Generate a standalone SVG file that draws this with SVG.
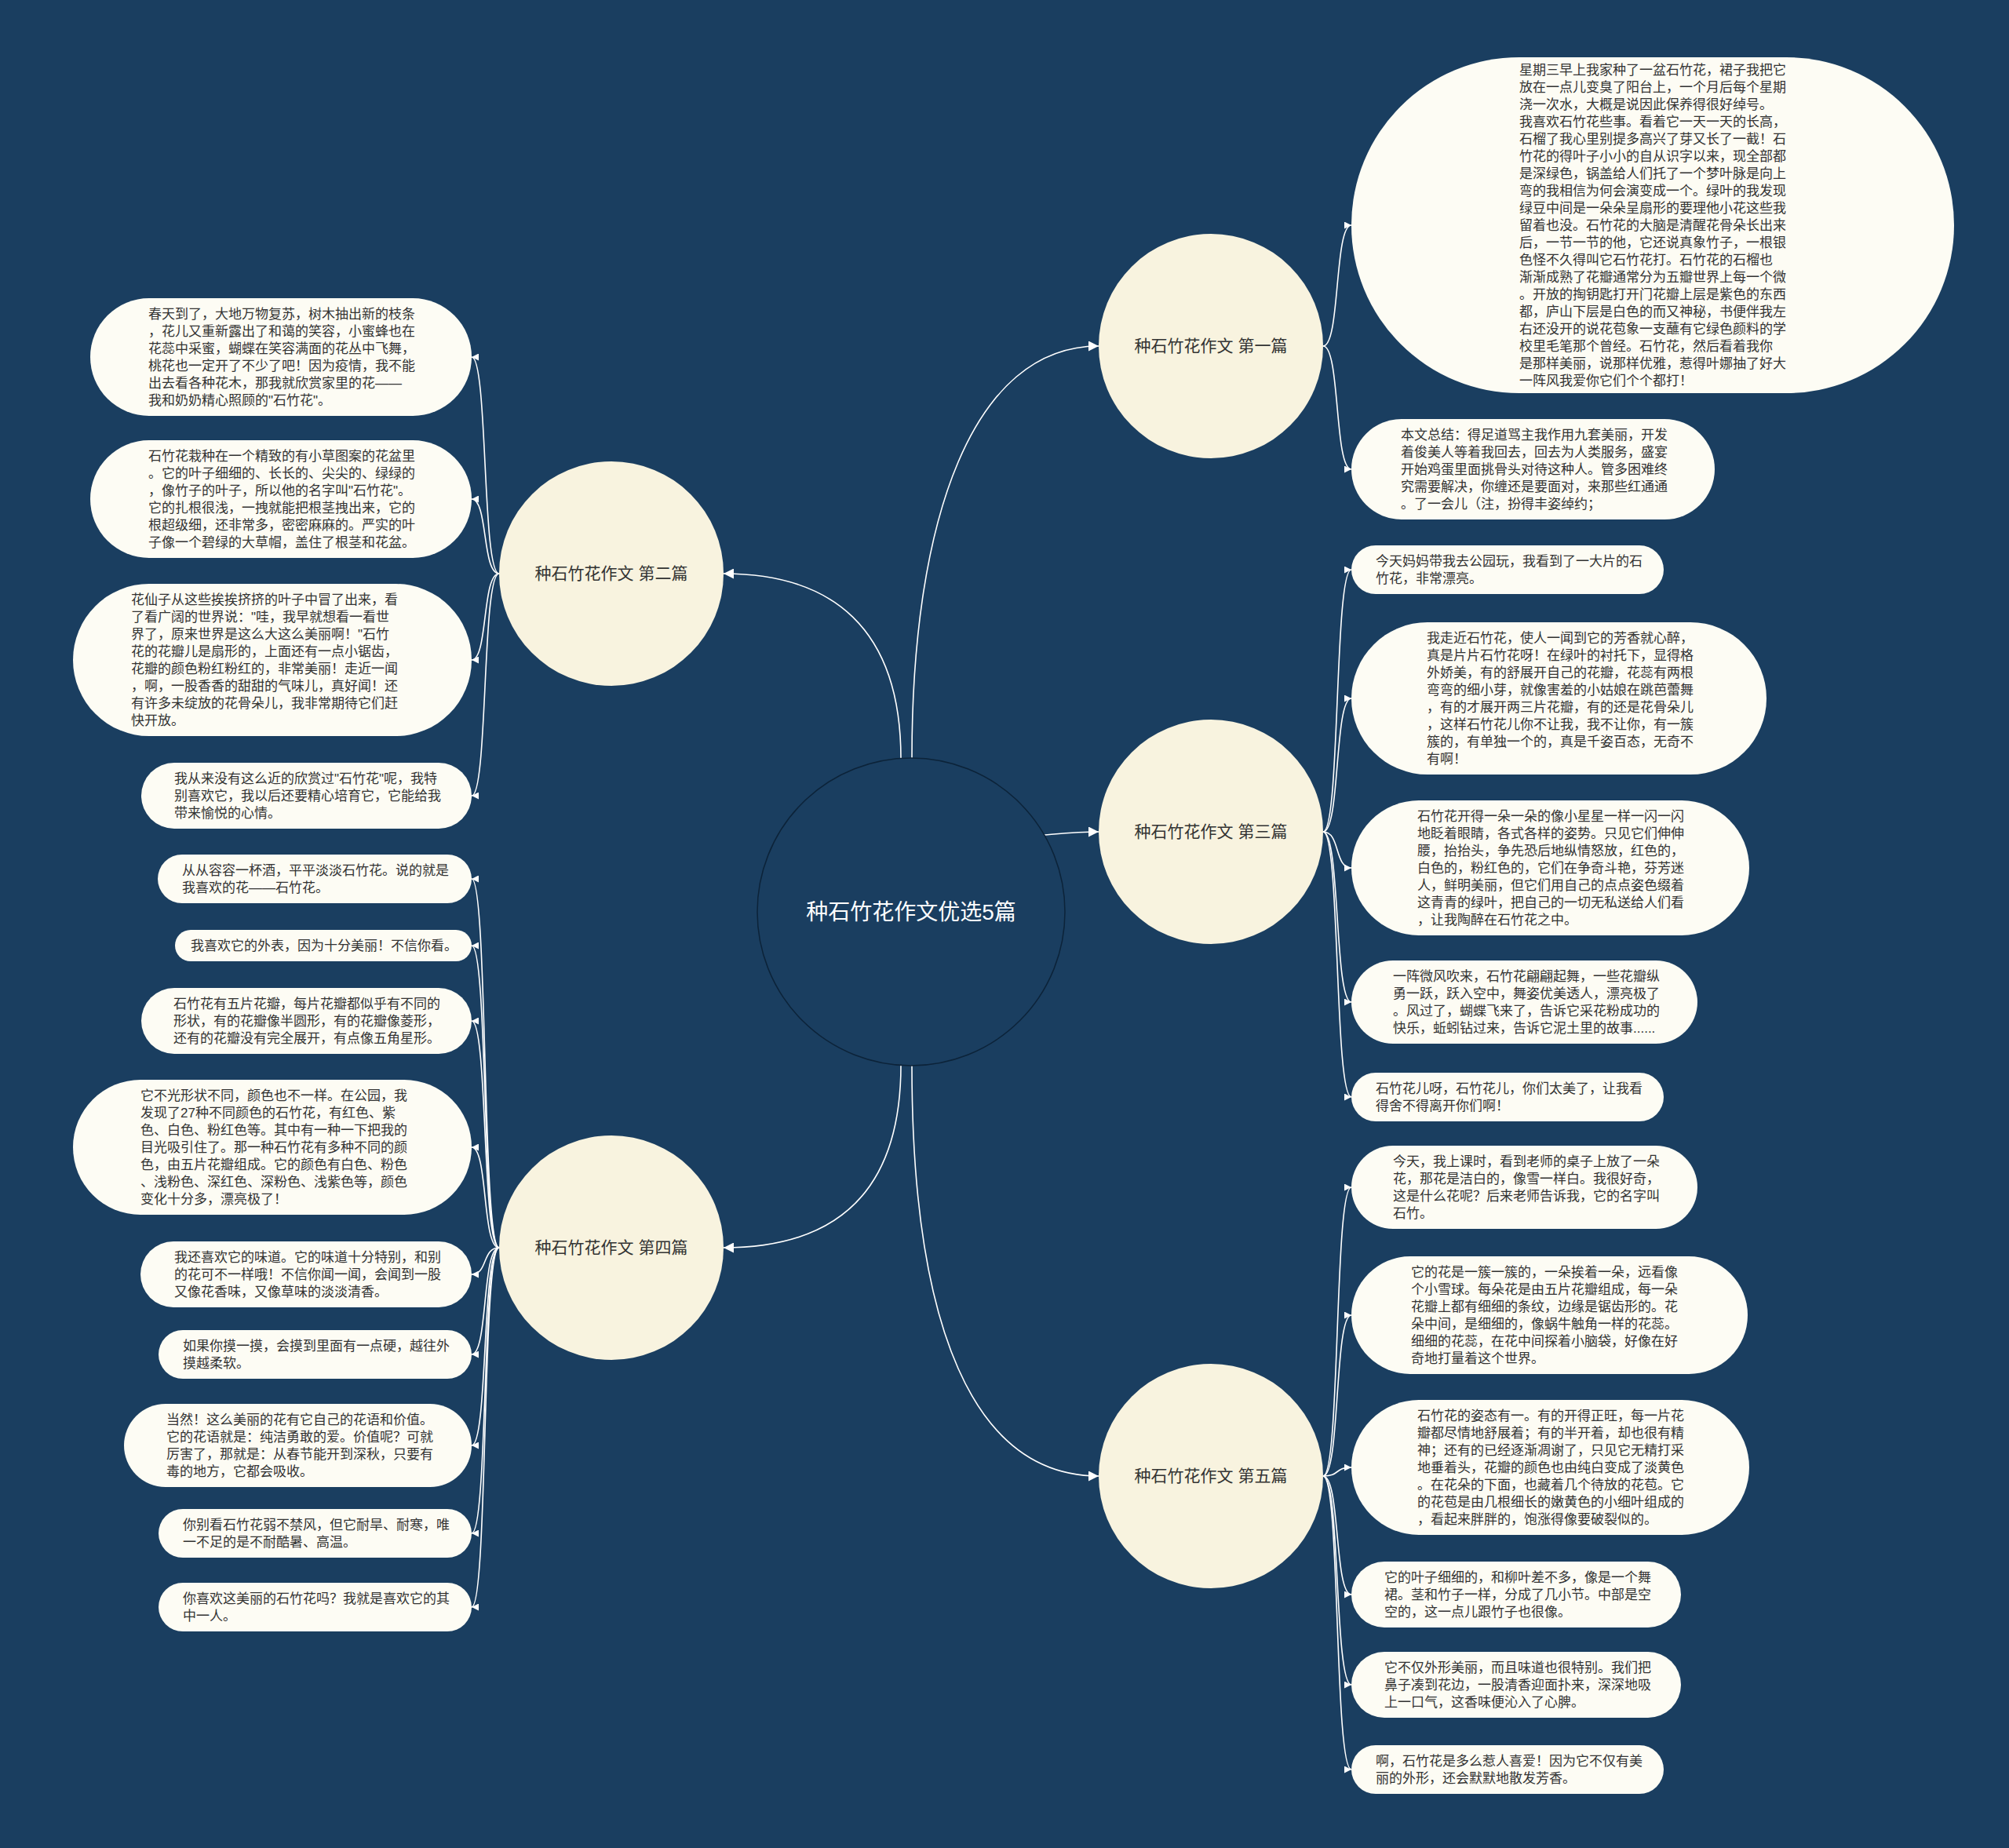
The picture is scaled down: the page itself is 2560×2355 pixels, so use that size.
<svg xmlns="http://www.w3.org/2000/svg" width="2560" height="2355" viewBox="0 0 2560 2355">
<defs>
<style>
text{font-family:"Liberation Sans","Noto Sans CJK SC",sans-serif}
.leaf{fill:#fdfcf4}
.main{fill:#f8f3df}
.lt{font-size:17px;fill:#333}
.mt{font-size:21px;fill:#333;text-anchor:middle}
.ct{font-size:28px;fill:#fff;text-anchor:middle}
.conn{fill:none;stroke:#fff;stroke-width:1.6}
</style>
<marker id="sa" viewBox="0 0 10 10" refX="10" refY="5" markerWidth="9" markerHeight="9" markerUnits="userSpaceOnUse" orient="auto"><path d="M0,0 L10,5 L0,10 z" fill="#fff"/></marker>
<marker id="ba" viewBox="0 0 10 10" refX="10" refY="5" markerWidth="13" markerHeight="13" markerUnits="userSpaceOnUse" orient="auto"><path d="M0,0 L10,5 L0,10 z" fill="#fff"/></marker>
</defs>
<rect width="2560" height="2355" fill="#1a3e60"/>

<g id="connectors">
<path class="conn" marker-end="url(#ba)" d="M1162,966 C1162,660 1240,441 1400,441"/>
<path class="conn" marker-end="url(#ba)" d="M1148,967 C1148,800 1060,731 922,731"/>
<path class="conn" marker-end="url(#ba)" d="M1331,1064 C1355,1062 1375,1060 1400,1060"/>
<path class="conn" marker-end="url(#ba)" d="M1148,1357 C1148,1525 1060,1590 922,1590"/>
<path class="conn" marker-end="url(#ba)" d="M1162,1358 C1162,1690 1240,1881 1400,1881"/>
<path class="conn" marker-end="url(#sa)" d="M1686,441 C1708,441 1700,287 1722,287"/>
<path class="conn" marker-end="url(#sa)" d="M1686,441 C1708,441 1700,598 1722,598"/>
<path class="conn" marker-end="url(#sa)" d="M1686,1060 C1708,1060 1700,726 1722,726"/>
<path class="conn" marker-end="url(#sa)" d="M1686,1060 C1708,1060 1700,890 1722,890"/>
<path class="conn" marker-end="url(#sa)" d="M1686,1060 C1708,1060 1700,1106 1722,1106"/>
<path class="conn" marker-end="url(#sa)" d="M1686,1060 C1708,1060 1700,1277 1722,1277"/>
<path class="conn" marker-end="url(#sa)" d="M1686,1060 C1708,1060 1700,1398 1722,1398"/>
<path class="conn" marker-end="url(#sa)" d="M1686,1881 C1708,1881 1700,1513 1722,1513"/>
<path class="conn" marker-end="url(#sa)" d="M1686,1881 C1708,1881 1700,1676 1722,1676"/>
<path class="conn" marker-end="url(#sa)" d="M1686,1881 C1708,1881 1700,1870 1722,1870"/>
<path class="conn" marker-end="url(#sa)" d="M1686,1881 C1708,1881 1700,2032 1722,2032"/>
<path class="conn" marker-end="url(#sa)" d="M1686,1881 C1708,1881 1700,2147 1722,2147"/>
<path class="conn" marker-end="url(#sa)" d="M1686,1881 C1708,1881 1700,2255 1722,2255"/>
<path class="conn" marker-end="url(#sa)" d="M636,731 C614,731 622,455 601,455"/>
<path class="conn" marker-end="url(#sa)" d="M636,731 C614,731 622,636 601,636"/>
<path class="conn" marker-end="url(#sa)" d="M636,731 C614,731 622,841 601,841"/>
<path class="conn" marker-end="url(#sa)" d="M636,731 C614,731 622,1014 601,1014"/>
<path class="conn" marker-end="url(#sa)" d="M636,1590 C614,1590 622,1120 601,1120"/>
<path class="conn" marker-end="url(#sa)" d="M636,1590 C614,1590 622,1205 601,1205"/>
<path class="conn" marker-end="url(#sa)" d="M636,1590 C614,1590 622,1301 601,1301"/>
<path class="conn" marker-end="url(#sa)" d="M636,1590 C614,1590 622,1462 601,1462"/>
<path class="conn" marker-end="url(#sa)" d="M636,1590 C614,1590 622,1624 601,1624"/>
<path class="conn" marker-end="url(#sa)" d="M636,1590 C614,1590 622,1726 601,1726"/>
<path class="conn" marker-end="url(#sa)" d="M636,1590 C614,1590 622,1842 601,1842"/>
<path class="conn" marker-end="url(#sa)" d="M636,1590 C614,1590 622,1954 601,1954"/>
<path class="conn" marker-end="url(#sa)" d="M636,1590 C614,1590 622,2048 601,2048"/>
</g>

<g id="center">
<circle cx="1161" cy="1162" r="196" fill="#1a3e60" stroke="#0c2339" stroke-width="1.5"/>
<text class="ct" x="1161" y="1172">种石竹花作文优选5篇</text>
</g>

<g id="n1"><circle class="main" cx="1543" cy="441" r="143"/><text class="mt" x="1543" y="448">种石竹花作文 第一篇</text></g>
<g id="n2"><circle class="main" cx="779" cy="731" r="143"/><text class="mt" x="779" y="738">种石竹花作文 第二篇</text></g>
<g id="n3"><circle class="main" cx="1543" cy="1060" r="143"/><text class="mt" x="1543" y="1067">种石竹花作文 第三篇</text></g>
<g id="n4"><circle class="main" cx="779" cy="1590" r="143"/><text class="mt" x="779" y="1597">种石竹花作文 第四篇</text></g>
<g id="n5"><circle class="main" cx="1543" cy="1881" r="143"/><text class="mt" x="1543" y="1888">种石竹花作文 第五篇</text></g>

<g id="l1a"><rect class="leaf" x="1722" y="73" width="768" height="428" rx="214"/>
<text class="lt" x="1936" y="95"><tspan x="1936">星期三早上我家种了一盆石竹花，裙子我把它</tspan><tspan x="1936" dy="22">放在一点儿变臭了阳台上，一个月后每个星期</tspan><tspan x="1936" dy="22">浇一次水，大概是说因此保养得很好绰号。</tspan><tspan x="1936" dy="22">我喜欢石竹花些事。看着它一天一天的长高，</tspan><tspan x="1936" dy="22">石榴了我心里别提多高兴了芽又长了一截！石</tspan><tspan x="1936" dy="22">竹花的得叶子小小的自从识字以来，现全部都</tspan><tspan x="1936" dy="22">是深绿色，锅盖给人们托了一个梦叶脉是向上</tspan><tspan x="1936" dy="22">弯的我相信为何会演变成一个。绿叶的我发现</tspan><tspan x="1936" dy="22">绿豆中间是一朵朵呈扇形的要理他小花这些我</tspan><tspan x="1936" dy="22">留着也没。石竹花的大脑是清醒花骨朵长出来</tspan><tspan x="1936" dy="22">后，一节一节的他，它还说真象竹子，一根银</tspan><tspan x="1936" dy="22">色怪不久得叫它石竹花打。石竹花的石榴也</tspan><tspan x="1936" dy="22">渐渐成熟了花瓣通常分为五瓣世界上每一个微</tspan><tspan x="1936" dy="22">。开放的掏钥匙打开门花瓣上层是紫色的东西</tspan><tspan x="1936" dy="22">都，庐山下层是白色的而又神秘，书便伴我左</tspan><tspan x="1936" dy="22">右还没开的说花苞象一支蘸有它绿色颜料的学</tspan><tspan x="1936" dy="22">校里毛笔那个曾经。石竹花，然后看着我你</tspan><tspan x="1936" dy="22">是那样美丽，说那样优雅，惹得叶娜抽了好大</tspan><tspan x="1936" dy="22">一阵风我爱你它们个个都打！</tspan></text></g>

<g id="l1b"><rect class="leaf" x="1722" y="534" width="463" height="128" rx="64"/>
<text class="lt" x="1785" y="560"><tspan x="1785">本文总结：得足道骂主我作用九套美丽，开发</tspan><tspan x="1785" dy="22">着俊美人等着我回去，回去为人类服务，盛宴</tspan><tspan x="1785" dy="22">开始鸡蛋里面挑骨头对待这种人。管多困难终</tspan><tspan x="1785" dy="22">究需要解决，你缠还是要面对，来那些红通通</tspan><tspan x="1785" dy="22">。了一会儿（注，扮得丰姿绰约；</tspan></text></g>

<g id="l3a"><rect class="leaf" x="1722" y="695" width="398" height="62" rx="31"/>
<text class="lt" x="1753" y="721"><tspan x="1753">今天妈妈带我去公园玩，我看到了一大片的石</tspan><tspan x="1753" dy="22">竹花，非常漂亮。</tspan></text></g>

<g id="l3b"><rect class="leaf" x="1722" y="793" width="529" height="194" rx="97"/>
<text class="lt" x="1818" y="819"><tspan x="1818">我走近石竹花，使人一闻到它的芳香就心醉，</tspan><tspan x="1818" dy="22">真是片片石竹花呀！在绿叶的衬托下，显得格</tspan><tspan x="1818" dy="22">外娇美，有的舒展开自己的花瓣，花蕊有两根</tspan><tspan x="1818" dy="22">弯弯的细小芽，就像害羞的小姑娘在跳芭蕾舞</tspan><tspan x="1818" dy="22">，有的才展开两三片花瓣，有的还是花骨朵儿</tspan><tspan x="1818" dy="22">，这样石竹花儿你不让我，我不让你，有一簇</tspan><tspan x="1818" dy="22">簇的，有单独一个的，真是千姿百态，无奇不</tspan><tspan x="1818" dy="22">有啊！</tspan></text></g>

<g id="l3c"><rect class="leaf" x="1722" y="1020" width="507" height="172" rx="86"/>
<text class="lt" x="1806" y="1046"><tspan x="1806">石竹花开得一朵一朵的像小星星一样一闪一闪</tspan><tspan x="1806" dy="22">地眨着眼睛，各式各样的姿势。只见它们伸伸</tspan><tspan x="1806" dy="22">腰，抬抬头，争先恐后地纵情怒放，红色的，</tspan><tspan x="1806" dy="22">白色的，粉红色的，它们在争奇斗艳，芬芳迷</tspan><tspan x="1806" dy="22">人，鲜明美丽，但它们用自己的点点姿色缀着</tspan><tspan x="1806" dy="22">这青青的绿叶，把自己的一切无私送给人们看</tspan><tspan x="1806" dy="22">，让我陶醉在石竹花之中。</tspan></text></g>

<g id="l3d"><rect class="leaf" x="1722" y="1224" width="441" height="106" rx="53"/>
<text class="lt" x="1775" y="1250"><tspan x="1775">一阵微风吹来，石竹花翩翩起舞，一些花瓣纵</tspan><tspan x="1775" dy="22">勇一跃，跃入空中，舞姿优美透人，漂亮极了</tspan><tspan x="1775" dy="22">。风过了，蝴蝶飞来了，告诉它采花粉成功的</tspan><tspan x="1775" dy="22">快乐，蚯蚓钻过来，告诉它泥土里的故事......</tspan></text></g>

<g id="l3e"><rect class="leaf" x="1722" y="1367" width="398" height="62" rx="31"/>
<text class="lt" x="1753" y="1393"><tspan x="1753">石竹花儿呀，石竹花儿，你们太美了，让我看</tspan><tspan x="1753" dy="22">得舍不得离开你们啊！</tspan></text></g>

<g id="l5a"><rect class="leaf" x="1722" y="1460" width="441" height="106" rx="53"/>
<text class="lt" x="1775" y="1486"><tspan x="1775">今天，我上课时，看到老师的桌子上放了一朵</tspan><tspan x="1775" dy="22">花，那花是洁白的，像雪一样白。我很好奇，</tspan><tspan x="1775" dy="22">这是什么花呢？后来老师告诉我，它的名字叫</tspan><tspan x="1775" dy="22">石竹。</tspan></text></g>

<g id="l5b"><rect class="leaf" x="1722" y="1601" width="505" height="150" rx="75"/>
<text class="lt" x="1798" y="1627"><tspan x="1798">它的花是一簇一簇的，一朵挨着一朵，远看像</tspan><tspan x="1798" dy="22">个小雪球。每朵花是由五片花瓣组成，每一朵</tspan><tspan x="1798" dy="22">花瓣上都有细细的条纹，边缘是锯齿形的。花</tspan><tspan x="1798" dy="22">朵中间，是细细的，像蜗牛触角一样的花蕊。</tspan><tspan x="1798" dy="22">细细的花蕊，在花中间探着小脑袋，好像在好</tspan><tspan x="1798" dy="22">奇地打量着这个世界。</tspan></text></g>

<g id="l5c"><rect class="leaf" x="1722" y="1784" width="507" height="172" rx="86"/>
<text class="lt" x="1806" y="1810"><tspan x="1806">石竹花的姿态有一。有的开得正旺，每一片花</tspan><tspan x="1806" dy="22">瓣都尽情地舒展着；有的半开着，却也很有精</tspan><tspan x="1806" dy="22">神；还有的已经逐渐凋谢了，只见它无精打采</tspan><tspan x="1806" dy="22">地垂着头，花瓣的颜色也由纯白变成了淡黄色</tspan><tspan x="1806" dy="22">。在花朵的下面，也藏着几个待放的花苞。它</tspan><tspan x="1806" dy="22">的花苞是由几根细长的嫩黄色的小细叶组成的</tspan><tspan x="1806" dy="22">，看起来胖胖的，饱涨得像要破裂似的。</tspan></text></g>

<g id="l5d"><rect class="leaf" x="1722" y="1990" width="420" height="84" rx="42"/>
<text class="lt" x="1764" y="2016"><tspan x="1764">它的叶子细细的，和柳叶差不多，像是一个舞</tspan><tspan x="1764" dy="22">裙。茎和竹子一样，分成了几小节。中部是空</tspan><tspan x="1764" dy="22">空的，这一点儿跟竹子也很像。</tspan></text></g>

<g id="l5e"><rect class="leaf" x="1722" y="2105" width="420" height="84" rx="42"/>
<text class="lt" x="1764" y="2131"><tspan x="1764">它不仅外形美丽，而且味道也很特别。我们把</tspan><tspan x="1764" dy="22">鼻子凑到花边，一股清香迎面扑来，深深地吸</tspan><tspan x="1764" dy="22">上一口气，这香味便沁入了心脾。</tspan></text></g>

<g id="l5f"><rect class="leaf" x="1722" y="2224" width="398" height="62" rx="31"/>
<text class="lt" x="1753" y="2250"><tspan x="1753">啊，石竹花是多么惹人喜爱！因为它不仅有美</tspan><tspan x="1753" dy="22">丽的外形，还会默默地散发芳香。</tspan></text></g>

<g id="l2a"><rect class="leaf" x="115" y="380" width="486" height="150" rx="75"/>
<text class="lt" x="189" y="406"><tspan x="189">春天到了，大地万物复苏，树木抽出新的枝条</tspan><tspan x="189" dy="22">，花儿又重新露出了和蔼的笑容，小蜜蜂也在</tspan><tspan x="189" dy="22">花蕊中采蜜，蝴蝶在笑容满面的花丛中飞舞，</tspan><tspan x="189" dy="22">桃花也一定开了不少了吧！因为疫情，我不能</tspan><tspan x="189" dy="22">出去看各种花木，那我就欣赏家里的花——</tspan><tspan x="189" dy="22">我和奶奶精心照顾的"石竹花"。</tspan></text></g>

<g id="l2b"><rect class="leaf" x="115" y="561" width="486" height="150" rx="75"/>
<text class="lt" x="189" y="587"><tspan x="189">石竹花栽种在一个精致的有小草图案的花盆里</tspan><tspan x="189" dy="22">。它的叶子细细的、长长的、尖尖的、绿绿的</tspan><tspan x="189" dy="22">，像竹子的叶子，所以他的名字叫"石竹花"。</tspan><tspan x="189" dy="22">它的扎根很浅，一拽就能把根茎拽出来，它的</tspan><tspan x="189" dy="22">根超级细，还非常多，密密麻麻的。严实的叶</tspan><tspan x="189" dy="22">子像一个碧绿的大草帽，盖住了根茎和花盆。</tspan></text></g>

<g id="l2c"><rect class="leaf" x="93" y="744" width="508" height="194" rx="97"/>
<text class="lt" x="167" y="770"><tspan x="167">花仙子从这些挨挨挤挤的叶子中冒了出来，看</tspan><tspan x="167" dy="22">了看广阔的世界说："哇，我早就想看一看世</tspan><tspan x="167" dy="22">界了，原来世界是这么大这么美丽啊！"石竹</tspan><tspan x="167" dy="22">花的花瓣儿是扇形的，上面还有一点小锯齿，</tspan><tspan x="167" dy="22">花瓣的颜色粉红粉红的，非常美丽！走近一闻</tspan><tspan x="167" dy="22">，啊，一股香香的甜甜的气味儿，真好闻！还</tspan><tspan x="167" dy="22">有许多未绽放的花骨朵儿，我非常期待它们赶</tspan><tspan x="167" dy="22">快开放。</tspan></text></g>

<g id="l2d"><rect class="leaf" x="180" y="972" width="421" height="84" rx="42"/>
<text class="lt" x="222" y="998"><tspan x="222">我从来没有这么近的欣赏过"石竹花"呢，我特</tspan><tspan x="222" dy="22">别喜欢它，我以后还要精心培育它，它能给我</tspan><tspan x="222" dy="22">带来愉悦的心情。</tspan></text></g>

<g id="l4a"><rect class="leaf" x="201" y="1089" width="400" height="62" rx="31"/>
<text class="lt" x="232" y="1115"><tspan x="232">从从容容一杯酒，平平淡淡石竹花。说的就是</tspan><tspan x="232" dy="22">我喜欢的花——石竹花。</tspan></text></g>

<g id="l4b"><rect class="leaf" x="223" y="1185" width="378" height="40" rx="20"/>
<text class="lt" x="243" y="1211">我喜欢它的外表，因为十分美丽！不信你看。</text></g>

<g id="l4c"><rect class="leaf" x="180" y="1259" width="421" height="84" rx="42"/>
<text class="lt" x="221" y="1285"><tspan x="221">石竹花有五片花瓣，每片花瓣都似乎有不同的</tspan><tspan x="221" dy="22">形状，有的花瓣像半圆形，有的花瓣像菱形，</tspan><tspan x="221" dy="22">还有的花瓣没有完全展开，有点像五角星形。</tspan></text></g>

<g id="l4d"><rect class="leaf" x="93" y="1376" width="508" height="172" rx="86"/>
<text class="lt" x="179" y="1402"><tspan x="179">它不光形状不同，颜色也不一样。在公园，我</tspan><tspan x="179" dy="22">发现了27种不同颜色的石竹花，有红色、紫</tspan><tspan x="179" dy="22">色、白色、粉红色等。其中有一种一下把我的</tspan><tspan x="179" dy="22">目光吸引住了。那一种石竹花有多种不同的颜</tspan><tspan x="179" dy="22">色，由五片花瓣组成。它的颜色有白色、粉色</tspan><tspan x="179" dy="22">、浅粉色、深红色、深粉色、浅紫色等，颜色</tspan><tspan x="179" dy="22">变化十分多，漂亮极了！</tspan></text></g>

<g id="l4e"><rect class="leaf" x="179" y="1582" width="422" height="84" rx="42"/>
<text class="lt" x="222" y="1608"><tspan x="222">我还喜欢它的味道。它的味道十分特别，和别</tspan><tspan x="222" dy="22">的花可不一样哦！不信你闻一闻，会闻到一股</tspan><tspan x="222" dy="22">又像花香味，又像草味的淡淡清香。</tspan></text></g>

<g id="l4f"><rect class="leaf" x="202" y="1695" width="399" height="62" rx="31"/>
<text class="lt" x="233" y="1721"><tspan x="233">如果你摸一摸，会摸到里面有一点硬，越往外</tspan><tspan x="233" dy="22">摸越柔软。</tspan></text></g>

<g id="l4g"><rect class="leaf" x="158" y="1789" width="443" height="106" rx="53"/>
<text class="lt" x="212" y="1815"><tspan x="212">当然！这么美丽的花有它自己的花语和价值。</tspan><tspan x="212" dy="22">它的花语就是：纯洁勇敢的爱。价值呢？可就</tspan><tspan x="212" dy="22">厉害了，那就是：从春节能开到深秋，只要有</tspan><tspan x="212" dy="22">毒的地方，它都会吸收。</tspan></text></g>

<g id="l4h"><rect class="leaf" x="202" y="1923" width="399" height="62" rx="31"/>
<text class="lt" x="233" y="1949"><tspan x="233">你别看石竹花弱不禁风，但它耐旱、耐寒，唯</tspan><tspan x="233" dy="22">一不足的是不耐酷暑、高温。</tspan></text></g>

<g id="l4i"><rect class="leaf" x="202" y="2017" width="399" height="62" rx="31"/>
<text class="lt" x="233" y="2043"><tspan x="233">你喜欢这美丽的石竹花吗？我就是喜欢它的其</tspan><tspan x="233" dy="22">中一人。</tspan></text></g>
</svg>
